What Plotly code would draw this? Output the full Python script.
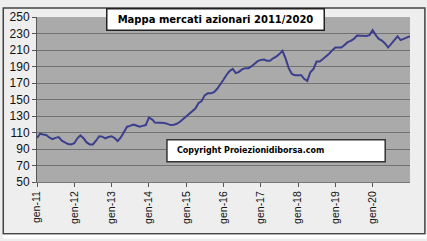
import plotly.graph_objects as go
import pandas as pd

values = [103.5, 108.5, 107.5, 107, 104, 102, 103.5, 104.5, 100, 98, 96, 95.5,
          97, 103, 106.5, 103, 98, 95.5, 95.5, 100, 105.5, 105, 103, 104.5,
          105.5, 103, 99.6, 104, 111, 117, 118, 119.5, 118.5, 117, 118, 119,
          128, 126, 122, 122, 122, 121.5, 120.5, 119, 119.5, 120.5, 123, 126,
          130, 133, 136, 139, 145.5, 148, 155, 157.5, 157.5, 159, 163, 168,
          174, 180, 184.5, 187, 182, 183.5, 186.5, 188, 188, 190, 193, 196.5,
          198, 198.5, 197, 197, 200, 202, 205, 209, 199.6, 188, 181, 179.5,
          179.5, 179.5, 175, 172.5, 183, 187, 196, 196, 199, 202, 205.5, 209.5,
          213, 213, 213, 216, 219.5, 221, 223.5, 227.5, 227.5, 227.5, 227, 228,
          234, 228, 223.5, 221.5, 218, 213, 217, 222, 226.5, 222, 223.5, 225.5,
          226.7]
dates = pd.date_range("2011-01-01", periods=len(values), freq="MS")
tick_dates = pd.date_range("2011-01-01", "2020-01-01", freq="YS")
tick_labels = ["gen-11", "gen-12", "gen-13", "gen-14", "gen-15",
               "gen-16", "gen-17", "gen-18", "gen-19", "gen-20"]
y_ticks = list(range(50, 251, 20))
title_text = "Mappa mercati azionari 2011/2020"
copyright_text = "Copyright Proiezionidiborsa.com"

PW, PH = 376, 172  # plot area size in px
def px(x):
    return (x - 34) / PW
def py(y):
    return (182 - y) / PH

fig = go.Figure()
fig.add_trace(go.Scatter(x=dates, y=values, mode="lines",
                         line=dict(color="#3b3f8c", width=2), hoverinfo="skip"))

fig.update_layout(
    width=427, height=241,
    margin=dict(l=34, r=17, t=10, b=59),
    paper_bgcolor="#eeeeee",
    plot_bgcolor="#aaaaaa",
    showlegend=False,
    font=dict(family="Liberation Sans, Arial, sans-serif", color="#111111"),
)
fig.update_xaxes(
    range=[dates[0], dates[-1]],
    tickvals=tick_dates, ticktext=tick_labels, tickangle=-90,
    tickfont=dict(size=10.5), ticks="outside", ticklen=4, tickcolor="#555555",
    showgrid=False, showline=True, linecolor="#777777", linewidth=1,
    zeroline=False,
)
fig.update_yaxes(
    range=[50, 250], tickvals=y_ticks, tickfont=dict(size=12),
    ticks="outside", ticklen=4, tickcolor="#555555",
    showgrid=True, gridcolor="#727272", gridwidth=1,
    showline=True, linecolor="#555555", linewidth=1, zeroline=False,
)

fig.add_annotation(xref="paper", yref="paper", x=px(214), y=py(13),
                   xanchor="center", yanchor="middle", showarrow=False,
                   text="<b>" + title_text + "</b>",
                   font=dict(family="DejaVu Sans, Verdana, sans-serif", size=10, color="#000000"),
                   bgcolor="#ffffff", bordercolor="#222222", borderwidth=1.5,
                   width=214, height=18)

# copyright box
fig.add_shape(type="rect", xref="paper", yref="paper",
              x0=px(165), x1=px(385), y0=py(161), y1=py(138),
              line=dict(color="#333333", width=1.5), fillcolor="#ffffff", layer="above")
fig.add_annotation(xref="paper", yref="paper", x=px(173), y=py(149.5),
                   xanchor="left", yanchor="middle", showarrow=False,
                   text="<b>" + copyright_text + "</b>",
                   font=dict(family="DejaVu Sans, Verdana, sans-serif", size=8, color="#000000"))

# outer frame lines
fig.add_shape(type="rect", xref="paper", yref="paper",
              x0=px(0), x1=px(425), y0=py(236), y1=py(0.5),
              line=dict(color="#444444", width=1.5), fillcolor="rgba(0,0,0,0)", layer="below")
fig.add_shape(type="rect", xref="paper", yref="paper",
              x0=px(0), x1=px(427), y0=py(241), y1=py(237),
              line=dict(width=0), fillcolor="#ffffff", layer="below")

fig.write_html("out.html")
